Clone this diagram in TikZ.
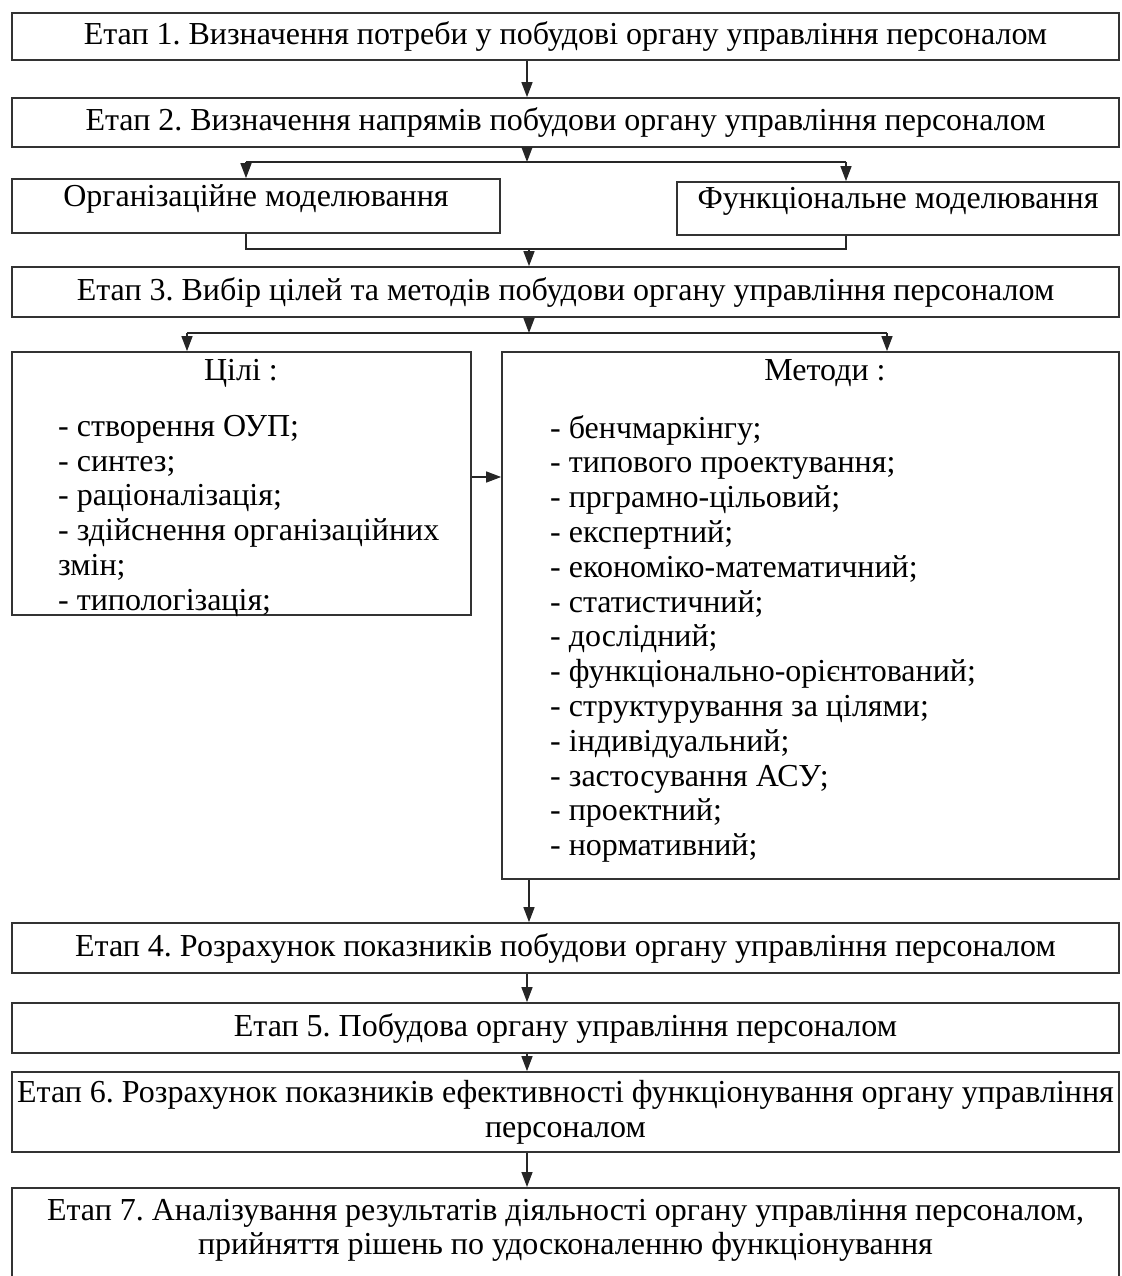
\documentclass[tikz,border=0pt]{standalone}
\usepackage{fontspec}
\setmainfont{Liberation Serif}
\frenchspacing
\usetikzlibrary{arrows.meta,positioning}
\tikzset{
	box/.style={draw=black!80, line width=1.7pt, inner sep=0pt, align=center, font=\fontsize{32}{34.6}\selectfont},
	stage/.style={box, minimum width=1107pt, minimum height=#1},
	stage/.default={50pt},
	txt/.style={inner sep=0pt, align=left, font=\fontsize{32}{34.8}\selectfont},
	arr/.style={-{Triangle[length=15pt,width=11pt]}, line width=1.4pt, black!85},
	ln/.style={line width=1.4pt, black!85}
}

\begin{document}
\begin{tikzpicture}[x=1pt,y=-1pt]
	\clip (0,0) rectangle (1121,1276);
	% axes of the connectors
	\coordinate (axis) at (527,0);
	\coordinate (orgIn) at (246,0);
	\coordinate (funIn) at (846,0);
	\coordinate (goalsIn) at (187,0);
	\coordinate (methIn) at (887,0);
	\coordinate (split) at (0,162);
	\coordinate (merge) at (0,249);
	\coordinate (fork) at (0,333);
	\coordinate (mid) at (0,477);

	% stages 1, 2
	\node (s1) at (565.5,36.5) [stage=47pt] {Етап 1. Визначення потреби у побудові органу управління персоналом};
	\node (s2) at (565.5,122.5) [stage=49pt] {Етап 2. Визначення напрямів побудови органу управління персоналом};

	% modelling
	\node (org) at (256,206) [box, minimum width=488pt, minimum height=54pt, text depth=21pt] {Організаційне моделювання};
	\node (fun) at (898,208.5) [box, minimum width=442pt, minimum height=53pt, text depth=21pt] {Функціональне моделювання};

	% stage 3
	\node (s3) at (565.5,292) [stage] {Етап 3. Вибір цілей та методів побудови органу управління персоналом};

	% goals and methods
	\node (goals) at (241.5,483.5) [box, minimum width=459pt, minimum height=263pt] {};
	\node (meth) at (810.5,615.5) [box, minimum width=617pt, minimum height=527pt] {};
	\node (goalsT) at (241,373) [txt] {Цілі :};
	\node (methT) at (825,373) [txt] {Методи :};
	\node (goalsL) at (58,415) [txt, anchor=north west] {- створення ОУП;\\- синтез;\\- раціоналізація;\\- здійснення організаційних\\змін;\\- типологізація;};
	\node (methL) at (550,415) [txt, anchor=north west] {- бенчмаркінгу;\\- типового проектування;\\- прграмно-цільовий;\\- експертний;\\- економіко-математичний;\\- статистичний;\\- дослідний;\\- функціонально-орієнтований;\\- структурування за цілями;\\- індивідуальний;\\- застосування АСУ;\\- проектний;\\- нормативний;};

	% stages 4 - 7
	\node (s4) at (565.5,948) [stage] {Етап 4. Розрахунок показників побудови органу управління персоналом};
	\node (s5) at (565.5,1028) [stage] {Етап 5. Побудова органу управління персоналом};
	\node (s6) at (565.5,1112) [stage=80pt] {Етап 6. Розрахунок показників ефективності функціонування органу управління\\персоналом};
	\node (s7) at (565.5,1187) [stage=0pt, anchor=north, inner ysep=11pt, text depth=90pt] {Етап 7. Аналізування результатів діяльності органу управління персоналом,\\прийняття рішень по удосконаленню функціонування};

	% connectors
	\draw [arr] (s1.south -| axis) -- (s2.north -| axis);
	\draw [arr] (s2.south -| axis) -- (axis |- split);
	\draw [ln] (orgIn |- split) -- (funIn |- split);
	\draw [arr] (orgIn |- split) -- (orgIn |- org.north);
	\draw [arr] (funIn |- split) -- (funIn |- fun.north);
	\draw [ln] (orgIn |- org.south) -- (orgIn |- merge) -- (funIn |- merge) -- (funIn |- fun.south);
	\draw [arr] (axis |- merge) ++(2,0) -- (s3.north -| 529,0);
	\draw [arr] (s3.south -| 529,0) -- (529,0 |- fork);
	\draw [ln] (goalsIn |- fork) -- (methIn |- fork);
	\draw [arr] (goalsIn |- fork) -- (goalsIn |- goals.north);
	\draw [arr] (methIn |- fork) -- (methIn |- meth.north);
	\draw [arr] (goals.east |- mid) -- (meth.west |- mid);
	\draw [arr] (meth.south -| 529,0) -- (s4.north -| 529,0);
	\draw [arr] (s4.south -| axis) -- (s5.north -| axis);
	\draw [arr] (s5.south -| axis) -- (s6.north -| axis);
	\draw [arr] (s6.south -| axis) -- (s7.north -| axis);
\end{tikzpicture}
\end{document}
